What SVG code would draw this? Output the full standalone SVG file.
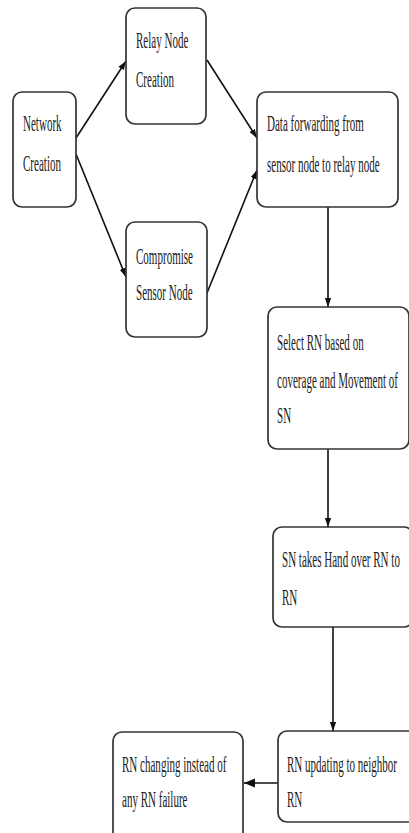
<svg xmlns="http://www.w3.org/2000/svg" width="409" height="833" viewBox="0 0 409 833">
<defs>
<style>
.box{fill:#fff;stroke:#333;stroke-width:1.7}
.t{font-family:"Liberation Serif","Times New Roman",serif;font-size:23px;fill:#222}
.c{stroke:#111;stroke-width:1.6;fill:none}
</style>
<marker id="ah" viewBox="0 0 10 10" refX="10" refY="5" markerWidth="9" markerHeight="9" markerUnits="userSpaceOnUse" orient="auto">
<path d="M0,1.5 L10,5 L0,8.5 Z" fill="#111"/>
</marker>
<marker id="ah2" viewBox="0 0 10 10" refX="10" refY="5" markerWidth="11" markerHeight="11" markerUnits="userSpaceOnUse" orient="auto">
<path d="M0,1 L10,5 L0,9 Z" fill="#111"/>
</marker>
</defs>
<rect width="409" height="833" fill="#fff"/>
<g id="connectors">
<line class="c" x1="76" y1="138" x2="126" y2="61" marker-end="url(#ah)"/>
<line class="c" x1="76" y1="154" x2="126" y2="277" marker-end="url(#ah)"/>
<line class="c" x1="207" y1="60" x2="257" y2="138" marker-end="url(#ah)"/>
<line class="c" x1="207" y1="293" x2="257" y2="170" marker-end="url(#ah)"/>
<line class="c" x1="328" y1="207" x2="328" y2="307" marker-end="url(#ah)"/>
<line class="c" x1="328" y1="449" x2="328" y2="527" marker-end="url(#ah)"/>
<line class="c" x1="333" y1="627" x2="333" y2="731" marker-end="url(#ah)"/>
<line class="c" x1="278" y1="783" x2="244" y2="783" stroke-width="2.4" marker-end="url(#ah2)"/>
</g>
<g id="network-creation">
<rect class="box" x="13" y="92" width="63" height="115" rx="9"/>
<text class="t" transform="translate(23,131) scale(0.48,1)">Network</text>
<text class="t" transform="translate(23,171) scale(0.48,1)">Creation</text>
</g>
<g id="relay-node-creation">
<rect class="box" x="126" y="8" width="80" height="116" rx="9"/>
<text class="t" transform="translate(136,48) scale(0.48,1)">Relay Node</text>
<text class="t" transform="translate(136,87) scale(0.48,1)">Creation</text>
</g>
<g id="compromise-sensor-node">
<rect class="box" x="126" y="222" width="81" height="115" rx="9"/>
<text class="t" transform="translate(136,264) scale(0.48,1)">Compromise</text>
<text class="t" transform="translate(136,300) scale(0.48,1)">Sensor Node</text>
</g>
<g id="data-forwarding">
<rect class="box" x="257" y="92" width="141" height="115" rx="9"/>
<text class="t" transform="translate(267,131) scale(0.48,1)">Data forwarding from</text>
<text class="t" transform="translate(267,172) scale(0.48,1)">sensor node to relay node</text>
</g>
<g id="select-rn">
<rect class="box" x="268" y="307" width="141" height="142" rx="9"/>
<text class="t" transform="translate(277,350) scale(0.48,1)">Select RN based on</text>
<text class="t" transform="translate(277,388) scale(0.48,1)">coverage and Movement of</text>
<text class="t" transform="translate(277,423) scale(0.48,1)">SN</text>
</g>
<g id="sn-takes-hand-over">
<rect class="box" x="273" y="527" width="140" height="100" rx="9"/>
<text class="t" transform="translate(282,567) scale(0.48,1)">SN takes Hand over RN to</text>
<text class="t" transform="translate(282,605) scale(0.48,1)">RN</text>
</g>
<g id="rn-updating">
<rect class="box" x="278" y="731" width="140" height="91" rx="9"/>
<text class="t" transform="translate(287,772) scale(0.48,1)">RN updating to neighbor</text>
<text class="t" transform="translate(287,807) scale(0.48,1)">RN</text>
</g>
<g id="rn-changing">
<rect class="box" x="113" y="732" width="130" height="110" rx="9"/>
<text class="t" transform="translate(122,772) scale(0.48,1)">RN changing instead of</text>
<text class="t" transform="translate(122,807) scale(0.48,1)">any RN failure</text>
</g>
</svg>
